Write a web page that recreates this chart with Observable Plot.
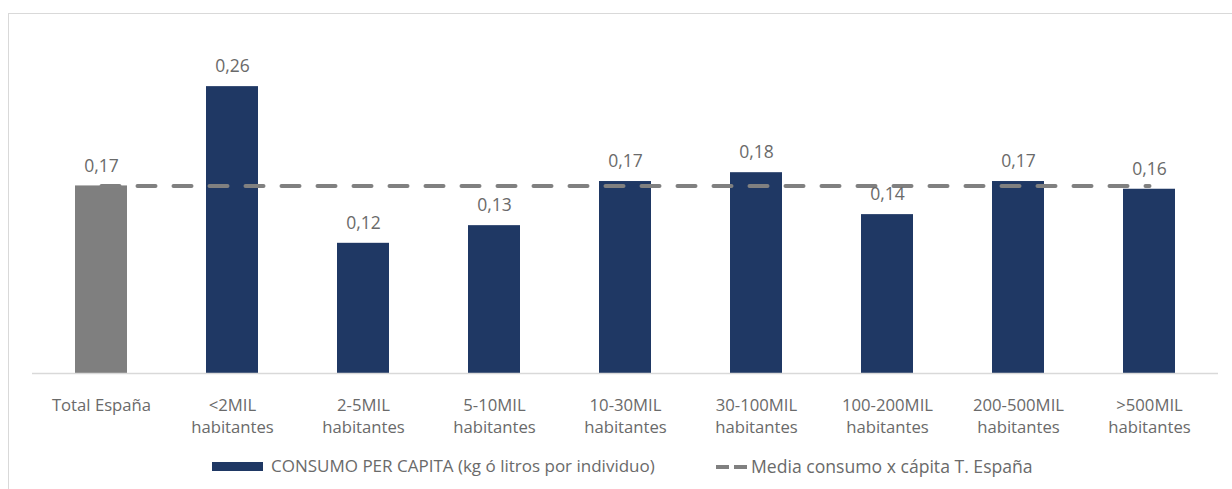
<!DOCTYPE html>
<html>
<head>
<meta charset="utf-8">
<script src="https://cdn.jsdelivr.net/npm/d3@7"></script>
<script src="https://cdn.jsdelivr.net/npm/@observablehq/plot@0.6"></script>
<style>
  body { margin: 0; background: #fff; }
  #wrap { position: relative; width: 1232px; height: 489px; overflow: hidden; font-family: "Open Sans", sans-serif; background: #fff; }
  #frame { position: absolute; left: 8px; top: 13px; width: 1300px; height: 600px; border-left: 1.5px solid #d9d9d9; border-top: 1.5px solid #d9d9d9; }
  #chart { position: absolute; left: 0; top: 0; }
  .leg { position: absolute; font-size: 17px; color: #6a6a6a; white-space: nowrap; line-height: 20px; }
  .sw { position: absolute; }
</style>
</head>
<body>
<div id="wrap">
  <div id="frame"></div>
  <div id="chart"></div>
  <div class="sw" style="left:212px;top:462px;width:51px;height:9px;background:#1f3864;"></div>
  <div class="leg" style="left:271px;top:456px;">CONSUMO PER CAPITA (kg ó litros por individuo)</div>
  <div class="sw" style="left:716px;top:465px;width:13px;height:4px;background:#808080;"></div>
  <div class="sw" style="left:734px;top:465px;width:13px;height:4px;background:#808080;"></div>
  <div class="leg" style="left:751px;top:456px;font-size:17.6px;">Media consumo x cápita T. España</div>
</div>
<script>
const categories = ["Total España", "<2MIL habitantes", "2-5MIL habitantes", "5-10MIL habitantes", "10-30MIL habitantes", "30-100MIL habitantes", "100-200MIL habitantes", "200-500MIL habitantes", ">500MIL habitantes"];
const values = [0.170, 0.260, 0.118, 0.134, 0.174, 0.182, 0.144, 0.174, 0.167];
const valueLabels = ["0,17", "0,26", "0,12", "0,13", "0,17", "0,18", "0,14", "0,17", "0,16"];
const meanValue = 0.17;
const barColors = ["#7f7f7f", "#1f3864", "#1f3864", "#1f3864", "#1f3864", "#1f3864", "#1f3864", "#1f3864", "#1f3864"];

const data = categories.map((c, i) => ({cat: c, value: values[i], label: valueLabels[i], color: barColors[i]}));
const meanData = categories.map(c => ({cat: c, value: meanValue}));

const chart = Plot.plot({
  width: 1232,
  height: 448,
  marginLeft: 32,
  marginRight: 14,
  marginTop: 42,
  marginBottom: 75,
  style: {color: "#6a6a6a", fontFamily: "'Open Sans', sans-serif", background: "transparent"},
  x: {domain: categories, paddingInner: 0.605, paddingOuter: 0.3025, label: null},
  y: {domain: [0, 0.3], axis: null},
  marks: [
    Plot.barY(data, {x: "cat", y: "value", fill: "color"}),
    Plot.ruleY([0], {stroke: "#d9d9d9", strokeWidth: 1.5}),
    Plot.line(meanData, {x: "cat", y: "value", stroke: "#808080", strokeWidth: 4, strokeDasharray: "18,18"}),
    Plot.text(data, {x: "cat", y: "value", text: "label", dy: -20, fill: "#6a6a6a", fontSize: 17.5}),
    Plot.axisX({tickSize: 0, tickPadding: 22, fontSize: 16.7, lineHeight: 1.32, tickFormat: d => d.replace(" habitantes", "\nhabitantes"), label: null})
  ]
});
document.getElementById("chart").appendChild(chart);
</script>
</body>
</html>
